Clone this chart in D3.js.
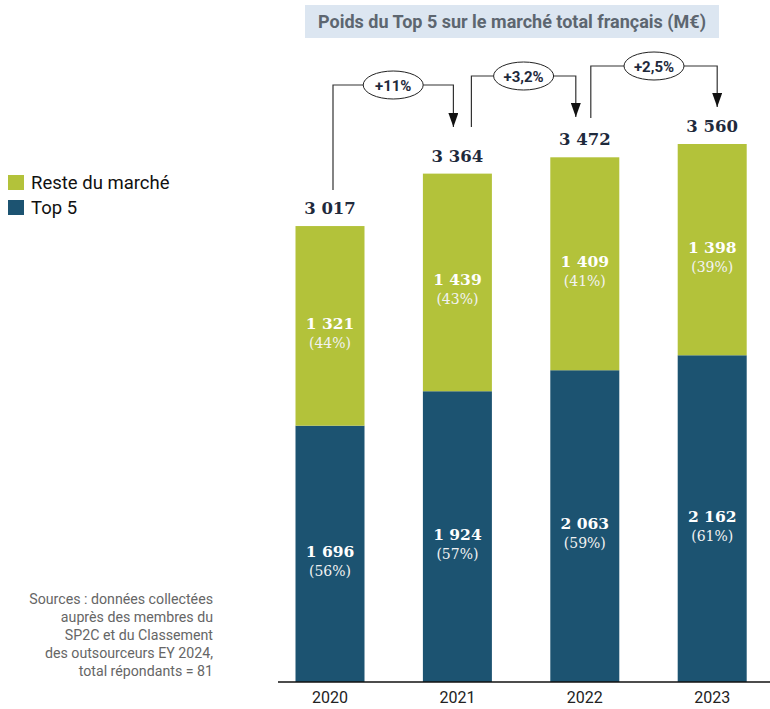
<!DOCTYPE html>
<html>
<head>
<meta charset="utf-8">
<script src="https://cdn.jsdelivr.net/npm/d3@7"></script>
<style>
  body { margin: 0; background: #fff; }
  svg { display: block; }
</style>
</head>
<body>
<div id="chart"></div>
<script>
    // Data
    const years = ["2020", "2021", "2022", "2023"];
    const top5 = [1696, 1924, 2063, 2162];
    const reste = [1321, 1439, 1409, 1398];
    const totals = [3017, 3364, 3472, 3560];
    const pctTop5 = ["(56%)", "(57%)", "(59%)", "(61%)"];
    const pctReste = ["(44%)", "(43%)", "(41%)", "(39%)"];
    const growth = ["+11%", "+3,2%", "+2,5%"];
    const legendLabels = ["Reste du marché", "Top 5"];
    const sourceLines = [
        "Sources : données collectées",
        "auprès des membres du",
        "SP2C et du Classement",
        "des outsourceurs EY 2024,",
        "total répondants = 81"
    ];

    const W = 770, H = 709;
    const green = "#b3c23a", blue = "#1c5371";
    const dark = "#1f2a3c";
    const serif = "'DejaVu Serif', Georgia, serif";
    const sans = "Roboto, 'Open Sans', sans-serif";

    const svg = d3.select("#chart").append("svg")
        .attr("width", W)
        .attr("height", H);

    // Scales
    const x = d3.scaleBand().domain(years).range([266.3, 775.9])
        .paddingInner(0.4584).paddingOuter(0.2292);
    const y = d3.scaleLinear().domain([0, 3560]).range([682, 144]);
    const cx = d => x(d) + x.bandwidth() / 2;

    // Title box
    svg.append("rect")
        .attr("x", 305).attr("y", 5)
        .attr("width", 414).attr("height", 33)
        .attr("fill", "#dce6f1");
    svg.append("text")
        .attr("x", 512).attr("y", 28)
        .attr("text-anchor", "middle")
        .attr("font-family", sans)
        .attr("font-weight", "bold")
        .attr("font-size", 18)
        .attr("fill", "#5d6670")
        .text("Poids du Top 5 sur le marché total français (M€)");

    // Stacked bars
    const rows = years.map((yr, i) => ({ yr, top5: top5[i], reste: reste[i], total: totals[i], i }));

    svg.selectAll(".bar-top5")
        .data(rows)
        .enter().append("rect")
        .attr("class", "bar-top5")
        .attr("x", d => x(d.yr))
        .attr("y", d => y(d.top5))
        .attr("width", x.bandwidth())
        .attr("height", d => y(0) - y(d.top5))
        .attr("fill", blue);

    svg.selectAll(".bar-reste")
        .data(rows)
        .enter().append("rect")
        .attr("class", "bar-reste")
        .attr("x", d => x(d.yr))
        .attr("y", d => y(d.total))
        .attr("width", x.bandwidth())
        .attr("height", d => y(d.top5) - y(d.total))
        .attr("fill", green);

    const fmt = v => d3.format(",")(v).replace(",", " ");

    // Segment labels
    function segLabels(getLo, getHi, vals, pcts) {
        rows.forEach((d, i) => {
            const mid = (y(getLo(d)) + y(getHi(d))) / 2;
            svg.append("text")
                .attr("x", cx(d.yr)).attr("y", mid + 3)
                .attr("text-anchor", "middle")
                .attr("font-family", serif)
                .attr("font-weight", "bold")
                .attr("font-size", 15.5)
                .attr("fill", "#fff")
                .text(fmt(vals[i]));
            svg.append("text")
                .attr("x", cx(d.yr)).attr("y", mid + 22)
                .attr("text-anchor", "middle")
                .attr("font-family", serif)
                .attr("font-size", 14)
                .attr("fill", "#f2f2f2")
                .text(pcts[i]);
        });
    }
    segLabels(d => 0, d => d.top5, top5, pctTop5);
    segLabels(d => d.top5, d => d.total, reste, pctReste);

    // Totals above bars
    svg.selectAll(".total")
        .data(rows)
        .enter().append("text")
        .attr("class", "total")
        .attr("x", d => cx(d.yr))
        .attr("y", d => y(d.total) - 12)
        .attr("text-anchor", "middle")
        .attr("font-family", serif)
        .attr("font-weight", "bold")
        .attr("font-size", 16.5)
        .attr("fill", dark)
        .text(d => fmt(d.total));

    // Growth connectors (layout offsets per connector)
    const linkLayout = [
        { dx0: 3, dx1: -4, hy: 85, y0: 190, tip: 127 },
        { dx0: 14, dx1: -9, hy: 76, y0: 127, tip: 117 },
        { dx0: 6, dx1: 5, hy: 66, y0: 118, tip: 107 }
    ];

    svg.append("defs").append("marker")
        .attr("id", "arrow")
        .attr("viewBox", "0 0 10 14")
        .attr("refX", 5).attr("refY", 14)
        .attr("markerWidth", 10).attr("markerHeight", 14)
        .attr("markerUnits", "userSpaceOnUse")
        .attr("orient", "0")
        .append("path")
        .attr("d", "M0,0L10,0L5,14Z")
        .attr("fill", "#111");

    growth.forEach((g, i) => {
        const L = linkLayout[i];
        const x0 = cx(years[i]) + L.dx0, x1 = cx(years[i + 1]) + L.dx1;
        const ex = (x0 + x1) / 2;
        const rx = 30, ry = 14;

        svg.append("path")
            .attr("d", `M${x0},${L.y0}V${L.hy}H${ex - rx}`)
            .attr("fill", "none")
            .attr("stroke", "#333")
            .attr("stroke-width", 1.2);
        svg.append("path")
            .attr("d", `M${ex + rx},${L.hy}H${x1}V${L.tip}`)
            .attr("fill", "none")
            .attr("stroke", "#333")
            .attr("stroke-width", 1.2)
            .attr("marker-end", "url(#arrow)");
        svg.append("ellipse")
            .attr("cx", ex).attr("cy", L.hy)
            .attr("rx", rx).attr("ry", ry)
            .attr("fill", "#fff")
            .attr("stroke", "#222")
            .attr("stroke-width", 1);
        svg.append("text")
            .attr("x", ex).attr("y", L.hy + 5.5)
            .attr("text-anchor", "middle")
            .attr("font-family", sans)
            .attr("font-weight", "bold")
            .attr("font-size", 15)
            .attr("fill", dark)
            .text(g);
    });

    // X axis
    const xAxis = svg.append("g")
        .attr("transform", `translate(0,${y(0)})`)
        .call(d3.axisBottom(x).tickSize(0).tickPadding(10));
    xAxis.select(".domain")
        .attr("d", "M278,0H770")
        .attr("stroke", "#111")
        .attr("stroke-width", 1.5);
    xAxis.selectAll("text")
        .attr("font-family", sans)
        .attr("font-size", 16)
        .attr("fill", "#222");

    // Legend
    const legendColors = [green, blue];
    const lg = svg.append("g").attr("transform", "translate(8,175)");
    legendLabels.forEach((lab, i) => {
        lg.append("rect")
            .attr("x", 0).attr("y", i * 25)
            .attr("width", 16).attr("height", 15)
            .attr("fill", legendColors[i]);
        lg.append("text")
            .attr("x", 23).attr("y", i * 25 + 14)
            .attr("font-family", sans)
            .attr("font-size", 18.5)
            .attr("fill", "#111")
            .text(lab);
    });

    // Sources note
    svg.append("g").selectAll("text")
        .data(sourceLines)
        .enter().append("text")
        .attr("x", 213)
        .attr("y", (d, i) => 604 + i * 18)
        .attr("text-anchor", "end")
        .attr("font-family", sans)
        .attr("font-size", 14.2)
        .attr("fill", "#666")
        .text(d => d);
</script>
</body>
</html>
